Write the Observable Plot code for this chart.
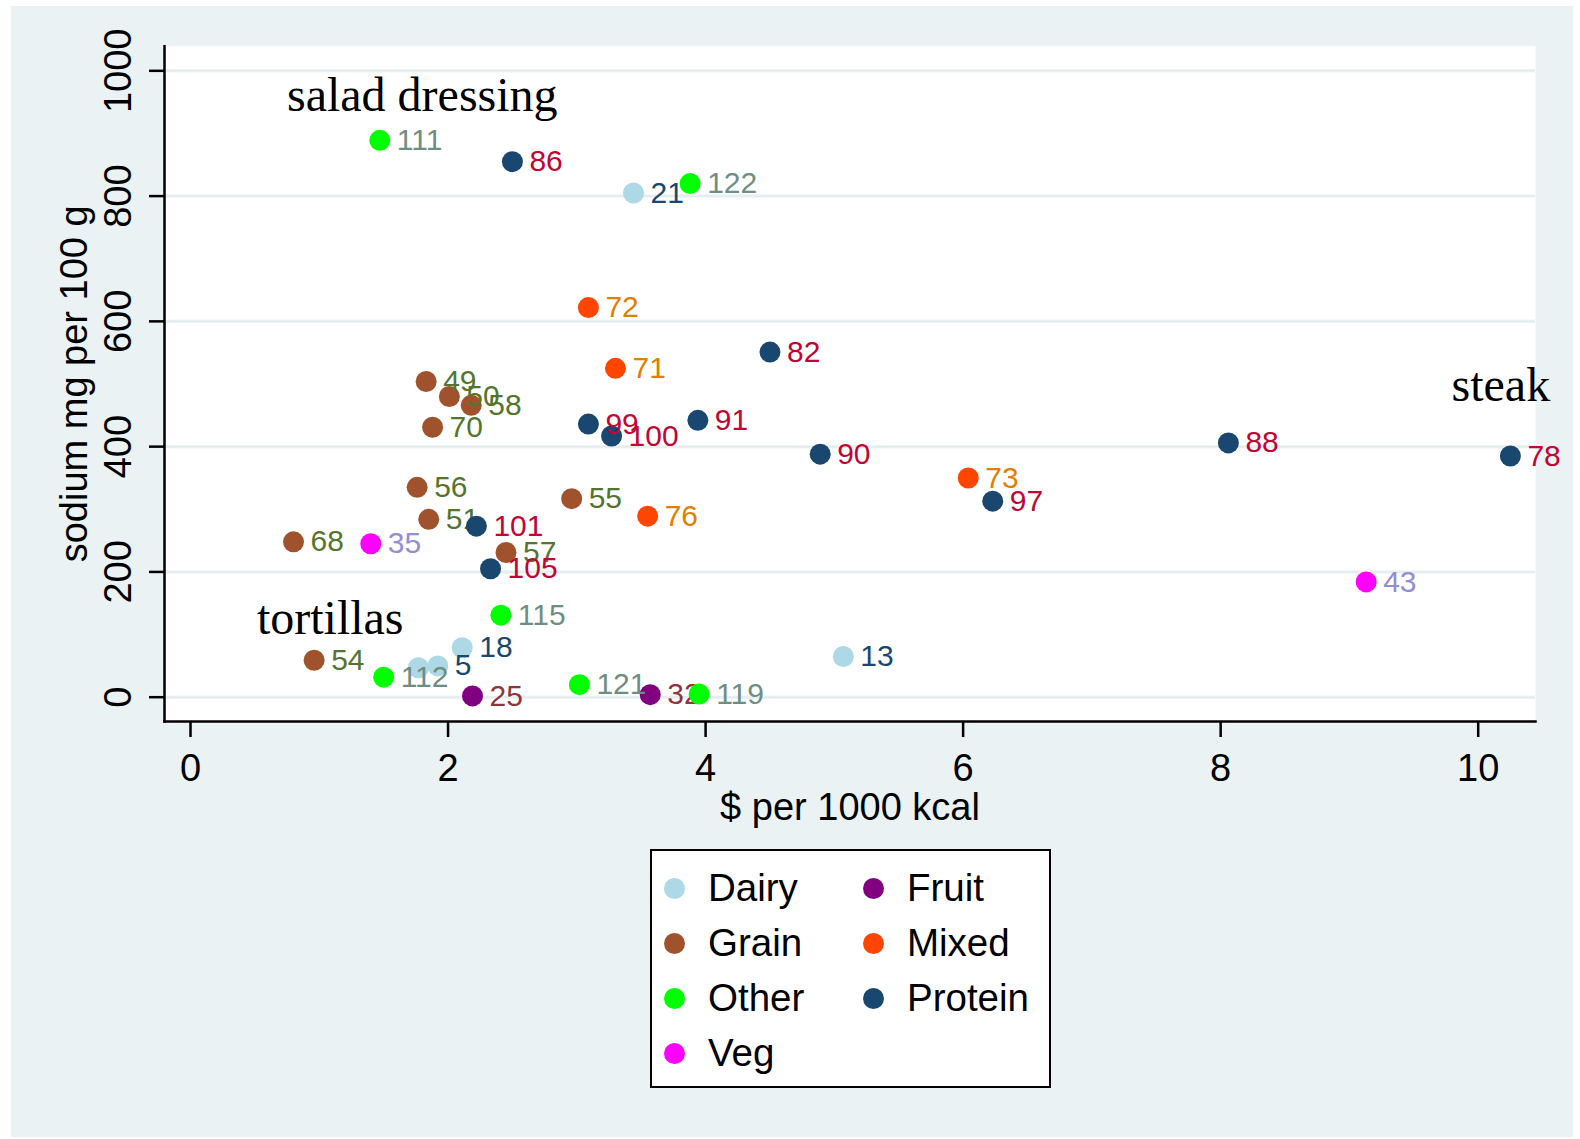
<!DOCTYPE html>
<html>
<head>
<meta charset="utf-8">
<script src="https://cdn.jsdelivr.net/npm/d3@7"></script>
<script src="https://cdn.jsdelivr.net/npm/@observablehq/plot@0.6"></script>
<style>
  html, body { margin: 0; padding: 0; background: #ffffff; }
  #page { position: relative; width: 1580px; height: 1139px; overflow: hidden; background: #ffffff; font-family: "Liberation Sans", Arial, sans-serif; }
  #bg { position: absolute; left: 11px; top: 6px; width: 1562px; height: 1131px; background: #EAF2F3; }
  #chart { position: absolute; left: 0; top: 0; }
  #legend { position: absolute; left: 650px; top: 849px; width: 401px; height: 239px; box-sizing: border-box; border: 2px solid #000; background: #fff; }
  .item { position: absolute; font-size: 38.5px; line-height: 1; color: #000; white-space: nowrap; }
  .sw { position: absolute; width: 21px; height: 21px; border-radius: 50%; }
</style>
</head>
<body>
<div id="page">
  <div id="bg"></div>
  <div id="chart"></div>
  <div id="legend"></div>
</div>
<script>
// ---- data ----
const pointLabels = ["111","86","21","122","72","82","71","49","50","58","70","99","100","91","90","88","78","73","97","56","55","51","101","76","68","35","57","105","43","115","18","54","13","112","","5","25","121","32","119"];
const pointGroups = ["Other","Protein","Dairy","Other","Mixed","Protein","Mixed","Grain","Grain","Grain","Grain","Protein","Protein","Protein","Protein","Protein","Protein","Mixed","Protein","Grain","Grain","Grain","Protein","Mixed","Grain","Veg","Grain","Protein","Veg","Other","Dairy","Grain","Dairy","Other","Dairy","Dairy","Fruit","Other","Fruit","Other"];
const costPer1000kcal = [1.47,2.50,3.44,3.88,3.09,4.50,3.30,1.83,2.01,2.18,1.88,3.09,3.27,3.94,4.89,8.06,10.25,6.04,6.23,1.76,2.96,1.85,2.22,3.55,0.80,1.40,2.45,2.33,9.13,2.41,2.11,0.96,5.07,1.50,1.77,1.92,2.19,3.02,3.57,3.95];
const sodiumPer100g = [889,855,805,820,622,551,525,504,480,466,431,436,417,442,388,406,385,350,313,335,317,284,273,289,248,245,231,205,184,131,79,59,65,32,47,50,2,20,4,5];

const groupOrder = ["Dairy","Fruit","Grain","Mixed","Other","Protein","Veg"];
const dotColors = ["#ADD8E6","#800080","#A0522D","#FF4500","#00FF00","#1A476F","#FF00FF"];
const labelColors = ["#1A476F","#90353B","#55752F","#E37E00","#6E8E84","#C10534","#938DD2"];

const xTicks = [0,2,4,6,8,10];
const yTicks = [0,200,400,600,800,1000];
const xTitle = "$ per 1000 kcal";
const yTitle = "sodium mg per 100 g";

const annoText = ["salad dressing","tortillas","steak"];
const annoX = [1.80, 1.085, 10.176];
const annoY = [961, 126, 497];

// ---- build ----
const rows = pointLabels.map((l, i) => ({label: l, group: pointGroups[i], x: costPer1000kcal[i], y: sodiumPer100g[i]}));
const annos = annoText.map((t, i) => ({t, x: annoX[i], y: annoY[i]}));
const dotColor = g => dotColors[groupOrder.indexOf(g)];
const labColor = g => labelColors[groupOrder.indexOf(g)];

const groupMarks = groupOrder.flatMap(g => {
  const sub = rows.filter(r => r.group === g);
  return [
    Plot.dot(sub, {x: "x", y: "y", r: 10.5, fill: dotColor(g), stroke: "none"}),
    Plot.text(sub.filter(r => r.label !== ""), {x: "x", y: "y", text: "label", fill: labColor(g), textAnchor: "start", dx: 17, lineAnchor: "middle", fontSize: 30})
  ];
});

const chart = Plot.plot({
  width: 1580,
  height: 840,
  marginLeft: 164,
  marginRight: 45,
  marginTop: 45.7,
  marginBottom: 119,
  style: {background: "transparent", fontFamily: "'Liberation Sans', Arial, sans-serif", overflow: "visible"},
  x: {domain: [-0.202, 10.445], axis: null},
  y: {domain: [-38.8, 1039.3], axis: null},
  marks: [
    Plot.frame({fill: "white", stroke: null}),
    Plot.ruleY(yTicks, {stroke: "#E6EEF0", strokeWidth: 3}),
    Plot.frame({anchor: "left", stroke: "black", strokeWidth: 2.5}),
    Plot.frame({anchor: "bottom", stroke: "black", strokeWidth: 2.5}),
    Plot.axisY(yTicks, {anchor: "left", tickSize: 15, tickFormat: () => "", label: null, stroke: "black", strokeWidth: 2.5}),
    Plot.axisX(xTicks, {anchor: "bottom", tickSize: 16, tickFormat: () => "", label: null, stroke: "black", strokeWidth: 2.5}),
    Plot.text(yTicks, {y: d => d, text: d => String(d), frameAnchor: "left", dx: -46, rotate: -90, textAnchor: "middle", lineAnchor: "middle", fontSize: 38, fill: "black"}),
    Plot.text(xTicks, {x: d => d, text: d => String(d), frameAnchor: "bottom", dy: 47, textAnchor: "middle", lineAnchor: "middle", fontSize: 38, fill: "black"}),
    Plot.text([xTitle], {text: d => d, frameAnchor: "bottom", dy: 86, textAnchor: "middle", lineAnchor: "middle", fontSize: 38, fill: "black"}),
    Plot.text([yTitle], {text: d => d, frameAnchor: "left", dx: -90, rotate: -90, textAnchor: "middle", lineAnchor: "middle", fontSize: 38, fill: "black"}),
    ...groupMarks,
    Plot.text(annos, {x: "x", y: "y", text: "t", textAnchor: "middle", lineAnchor: "middle", fontSize: 48, fontFamily: "'Liberation Serif', 'Times New Roman', serif", fill: "black"})
  ]
});
document.getElementById("chart").appendChild(chart);

// ---- legend ----
const legend = document.getElementById("legend");
const colX = [22, 221];   // swatch centre offsets inside box
const rowY = [37, 92, 147, 202];
groupOrder.forEach((g, i) => {
  const col = i % 2, row = Math.floor(i / 2);
  const sw = document.createElement("div");
  sw.className = "sw";
  sw.style.background = dotColors[i];
  sw.style.left = (colX[col] - 10.5) + "px";
  sw.style.top = (rowY[row] - 10.5) + "px";
  legend.appendChild(sw);
  const t = document.createElement("div");
  t.className = "item";
  t.textContent = g;
  t.style.left = (colX[col] + 34) + "px";
  t.style.top = (rowY[row] - 19.5) + "px";
  legend.appendChild(t);
});
</script>
</body>
</html>
